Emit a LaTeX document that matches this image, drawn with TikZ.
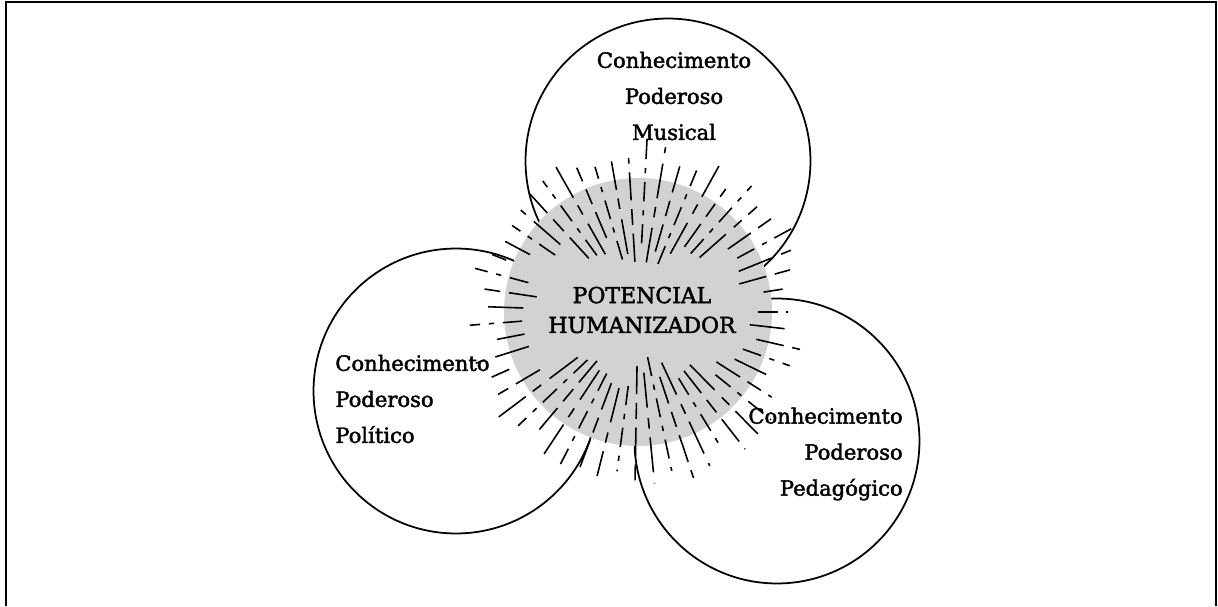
\documentclass[tikz,border=0pt]{standalone}
\usepackage{fontspec}
\setmainfont{DejaVu Serif}[FakeBold=2]
\tikzset{
  knowledge/.style={draw, circle, line width=1pt, minimum size=5.7cm, inner sep=0pt},
  hubdisc/.style={circle, fill=gray!35, minimum size=5.36cm, inner sep=0pt},
  labeltext/.style={font=\fontsize{12}{20.5}\selectfont, inner sep=0pt},
  ray0/.style={line width=0.9pt, dash pattern=on 16pt off 5pt on 9pt off 5pt},
  ray1/.style={line width=0.9pt, dash pattern=on 11pt off 5pt on 3pt off 5pt},
  ray2/.style={line width=0.9pt, dash pattern=on 20pt off 6pt on 6pt off 5pt},
}
\begin{document}
\begin{tikzpicture}[x=0.02cm, y=-0.02cm]
  \useasboundingbox (0,0) rectangle (1218,606);
  % frame
  \draw[line width=1.2pt] (6,606) -- (6,2) -- (1216,2) -- (1216,606);

  % the three circles
  \node[knowledge] (musical) at (668,161) {};
  \node[knowledge] (politico) at (456,391) {};
  \node[knowledge] (pedagogico) at (777,441) {};

  % gray centre
  \node[hubdisc] (hub) at (638,312) {};

  % rays
  \pgfmathsetseed{31}
  \foreach \a [count=\i] in {0,6.5,...,354}
  {
    \pgfmathsetmacro\ri{min(100/max(abs(cos(\a)),0.05), 45/max(abs(sin(\a)),0.05)) + 35*rnd}
    \pgfmathsetmacro\ro{150+28*rnd}
    \pgfmathtruncatemacro\k{mod(\i,3)}
    \draw[ray\k, shift={(hub.center)}] (\a:\ri) -- (\a:\ro);
  }

  % texts
  \node[labeltext, align=center] (musicaltext) at (674,96)
    {Conhecimento\\Poderoso\\Musical};
  \node[labeltext, align=left, anchor=west] (politicotext) at (335,399)
    {Conhecimento\\Poderoso\\Político};
  \node[labeltext, align=right, anchor=east] (pedagogicotext) at (903,454)
    {Conhecimento\\Poderoso\\Pedagógico};
  \node[labeltext, align=center, font=\fontsize{12.5}{17}\selectfont] (hubtext) at (642,310)
    {POTENCIAL\\HUMANIZADOR};
\end{tikzpicture}
\end{document}
